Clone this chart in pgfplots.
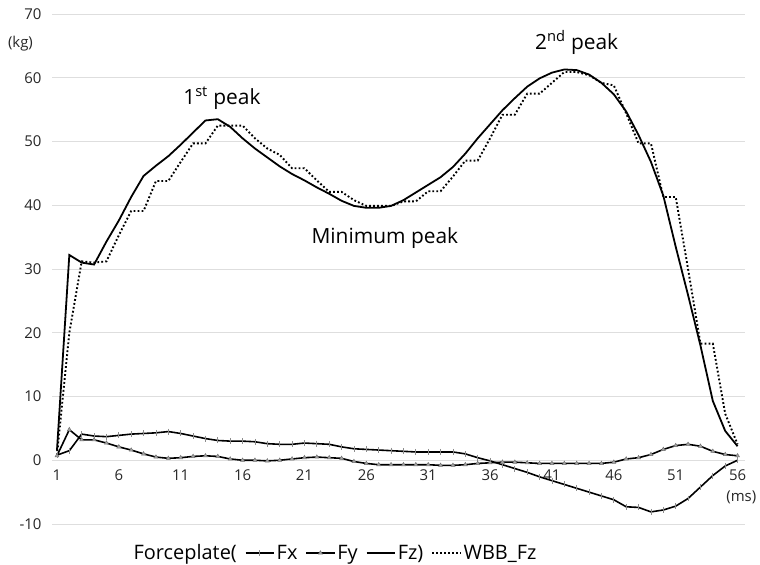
\documentclass[border=0pt]{standalone}
\usepackage{pgfplots}
\pgfplotsset{compat=1.18}
\usepackage{pgfplotstable}
\usepackage{fontspec}
\setmainfont{Open Sans}
\pgfplotstableread{
x Fx Fy Fz WBB
1 0.8 0.7 1.5 0.8
2 1.5 4.8 32.2 20.0
3 4.1 3.2 31.0 31.2
4 3.8 3.2 30.7 31.0
5 3.7 2.7 34.3 31.2
6 3.9 2.1 37.6 35.3
7 4.1 1.6 41.3 39.1
8 4.2 1.0 44.6 39.1
9 4.3 0.5 46.2 43.8
10 4.5 0.3 47.7 43.8
11 4.2 0.4 49.5 46.8
12 3.8 0.6 51.4 49.7
13 3.4 0.7 53.3 49.7
14 3.1 0.6 53.5 52.5
15 3.0 0.2 52.3 52.5
16 3.0 0.0 50.5 52.5
17 2.9 0.0 48.9 50.5
18 2.6 -0.1 47.5 48.9
19 2.5 0.0 46.1 47.9
20 2.5 0.2 44.9 45.8
21 2.7 0.4 43.9 45.8
22 2.6 0.5 42.8 43.9
23 2.5 0.4 41.8 42.1
24 2.1 0.3 40.7 42.1
25 1.8 -0.2 39.9 40.8
26 1.7 -0.5 39.6 39.9
27 1.6 -0.7 39.6 39.9
28 1.5 -0.7 39.9 39.9
29 1.4 -0.7 40.8 40.6
30 1.3 -0.7 42.0 40.6
31 1.3 -0.7 43.2 42.2
32 1.3 -0.8 44.4 42.2
33 1.3 -0.8 46.0 44.5
34 1.0 -0.7 48.1 47.0
35 0.4 -0.5 50.5 47.0
36 -0.1 -0.4 52.7 50.5
37 -0.7 -0.3 54.9 54.2
38 -1.3 -0.3 56.8 54.2
39 -1.9 -0.4 58.6 57.5
40 -2.6 -0.5 59.9 57.5
41 -3.2 -0.5 60.8 59.2
42 -3.8 -0.5 61.3 60.9
43 -4.4 -0.5 61.2 60.9
44 -5.0 -0.5 60.5 60.4
45 -5.6 -0.5 59.2 59.2
46 -6.2 -0.3 57.4 58.8
47 -7.3 0.2 54.7 54.4
48 -7.4 0.4 51.0 49.7
49 -8.1 0.9 46.8 49.7
50 -7.8 1.7 41.5 41.3
51 -7.2 2.3 33.5 41.3
52 -6.0 2.5 25.9 30.0
53 -4.2 2.2 18.0 18.3
54 -2.4 1.4 9.3 18.3
55 -0.9 0.9 4.6 7.3
56 0.0 0.7 2.2 2.5
}\datatable
\begin{document}
\begin{tikzpicture}
\useasboundingbox (0,0) rectangle (760bp,565bp);
\begin{axis}[
  at={(52bp,41bp)}, anchor=south west,
  scale only axis, width=693bp, height=510bp,
  xmin=0.6, xmax=56.6, ymin=-10, ymax=70,
  axis x line*=middle, axis y line*=left,
  x axis line style={draw=none}, y axis line style={draw=none},
  major tick length=0pt,
  xtick={1,6,...,56},
  xticklabels={1,6,11,16,21,26,31,36,41,46,51,56},
  ytick={-10,0,10,20,30,40,50,60,70},
  yticklabels={-10,0,10,20,30,40,50,60,70},
  ymajorgrids,
  grid style={draw=black!13, line width=0.8bp},
  tick label style={font=\fontsize{15}{17}\selectfont, text=black!85},
  xticklabel style={yshift=-6bp},
  yticklabel style={xshift=-7bp},
  clip=false,
  legend style={at={(0.4185,-0.0569)}, anchor=center, draw=none, fill=none,
    font=\fontsize{20}{22}\selectfont, legend columns=-1,
    /tikz/every even column/.append style={column sep=6bp}},
  legend image code/.code={\draw[mark repeat=2,mark phase=2] plot coordinates {(0cm,0cm) (0.5cm,0cm) (1cm,0cm)};},
]
\addlegendimage{empty legend}
\addlegendentry{\hspace{-14bp}Forceplate(}
\addplot[black, line width=1.6pt, mark=|, mark size=3pt, mark options={draw=black!45, line width=0.8pt}] table[x=x,y=Fx]{\datatable};
\addlegendentry{Fx}
\addplot[black, line width=1.6pt, mark=triangle*, mark size=2.3pt, mark options={fill=black!35, draw=black!55, line width=0.5pt}] table[x=x,y=Fy]{\datatable};
\addlegendentry{Fy}
\addplot[black, line width=1.8pt] table[x=x,y=Fz]{\datatable};
\addlegendentry{Fz)}
\addplot[black, line width=1.9pt, dash pattern=on 1.8pt off 2.2pt] table[x=x,y=WBB]{\datatable};
\addlegendentry{WBB\_Fz}
\node[font=\fontsize{21}{23}\selectfont] at (axis cs:14.33,56.8) {1\textsuperscript{st} peak};
\node[font=\fontsize{21}{23}\selectfont] at (axis cs:43.0,65.5) {2\textsuperscript{nd} peak};
\node[font=\fontsize{21}{23}\selectfont] at (axis cs:27.5,34.85) {Minimum peak};
\node[font=\fontsize{15}{17}\selectfont, text=black!85] at (axis cs:56.3,-5.8) {(ms)};
\node[font=\fontsize{15}{17}\selectfont, text=black!85] at (axis cs:-1.95,65.3) {(kg)};
\end{axis}
\end{tikzpicture}
\end{document}
